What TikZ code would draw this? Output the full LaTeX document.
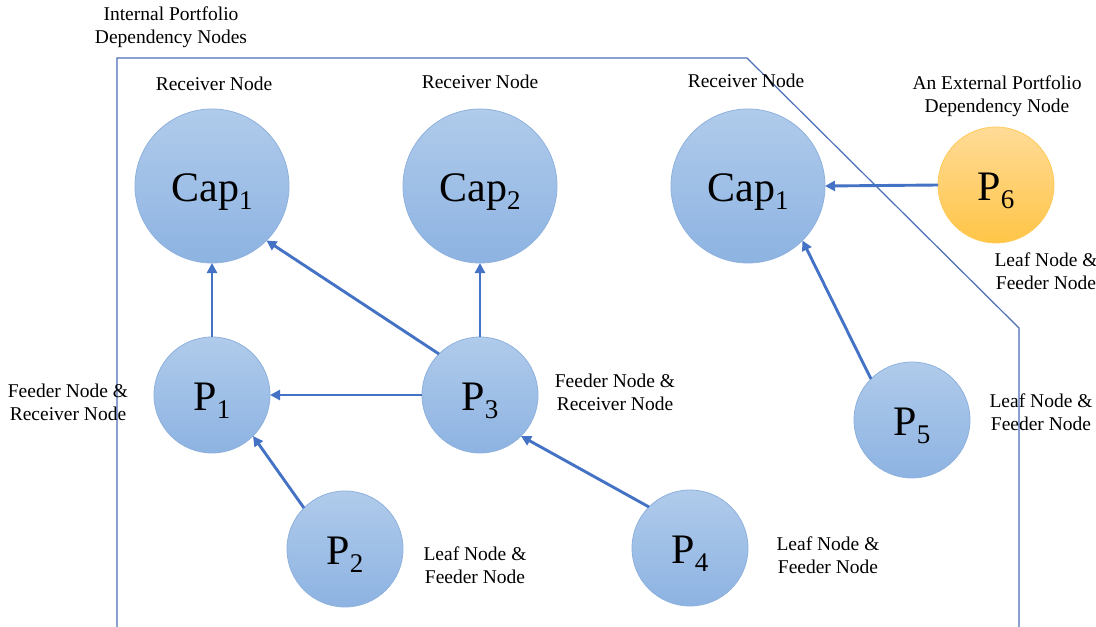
\documentclass[tikz,border=0pt]{standalone}
\usepackage{fontspec}
\setmainfont{Liberation Serif}
\usetikzlibrary{arrows.meta}

\definecolor{linkblue}{HTML}{4472C4}
\definecolor{frameblue}{HTML}{4A6DB8}
\definecolor{ballTop}{HTML}{B0CBEB}
\definecolor{ballBot}{HTML}{8DB3E2}
\definecolor{ballRim}{HTML}{8FB1DD}
\definecolor{sunTop}{HTML}{FFDB97}
\definecolor{sunBot}{HTML}{FFC547}
\definecolor{sunRim}{HTML}{FFCB5C}

% lowered index digit after a node name
\newcommand\idx[1]{\raisebox{-8pt}{\fontsize{27}{27}\selectfont #1}}

\tikzset{
  ball/.style={circle, draw=ballRim, line width=0.8pt, top color=ballTop, bottom color=ballBot,
    inner sep=0pt, outer sep=0pt, font=\fontsize{42}{42}\selectfont,
    text height=31pt, text depth=0pt},
  bigball/.style={ball, minimum size=154pt},
  smallball/.style={ball, minimum size=116pt},
  extball/.style={smallball, draw=sunRim, top color=sunTop, bottom color=sunBot},
  link/.style={draw=linkblue, line width=2.9pt, -{Triangle[length=10pt,width=10pt]}},
  frame/.style={draw=frameblue, line width=1.2pt},
  % anchor=base sits on the last line's baseline
  tag/.style={font=\fontsize{19.5}{23}\selectfont, align=center, anchor=base, inner sep=0pt}
}

\begin{document}
\begin{tikzpicture}[x=1pt, y=-1pt]
\useasboundingbox (0,0) rectangle (1096,627);

% boundary of the internal portfolio group
\draw[frame] (117,627) -- (117,58) -- (747,58) -- (1019,328) -- (1019,627);

% portfolio and capability nodes
\node[bigball] (capA) at (212,186) {Cap\idx{1}};
\node[bigball] (capB) at (480,186) {Cap\idx{2}};
\node[bigball] (capC) at (748,186) {Cap\idx{1}};
\node[extball] (p6) at (996,185) {P\idx{6}};
\node[smallball] (p1) at (212,395) {P\idx{1}};
\node[smallball] (p3) at (480,395) {P\idx{3}};
\node[smallball] (p2) at (345,549) {P\idx{2}};
\node[smallball] (p4) at (690,548) {P\idx{4}};
\node[smallball] (p5) at (912,420) {P\idx{5}};

% dependency links
\draw[link] (p1.north) -- (capA.south);
\draw[link] (p3.north west) -- (capA.south east);
\draw[link] (p3.north) -- (capB.south);
\draw[link] (p3.west) -- (p1.east);
\draw[link] (p2.north west) -- (p1.south east);
\draw[link] (p4.north west) -- (p3.south east);
\draw[link] (p5.north west) -- (capC.south east);
\draw[link] (p6.west) -- (capC.east);

% role labels
\node[tag] (tGroup) at (171,43) {Internal Portfolio\\Dependency Nodes};
\node[tag] (tRecvA) at (214,90) {Receiver Node};
\node[tag] (tRecvB) at (480,88) {Receiver Node};
\node[tag] (tRecvC) at (746,87) {Receiver Node};
\node[tag] (tExt) at (997,112) {An External Portfolio\\Dependency Node};
\node[tag] (tP6) at (1046,289) {Leaf Node \&\\Feeder Node};
\node[tag] (tP1) at (68,420) {Feeder Node \&\\Receiver Node};
\node[tag] (tP3) at (615,410) {Feeder Node \&\\Receiver Node};
\node[tag] (tP5) at (1041,430) {Leaf Node \&\\Feeder Node};
\node[tag] (tP2) at (475,583) {Leaf Node \&\\Feeder Node};
\node[tag] (tP4) at (828,573) {Leaf Node \&\\Feeder Node};
\end{tikzpicture}
\end{document}
